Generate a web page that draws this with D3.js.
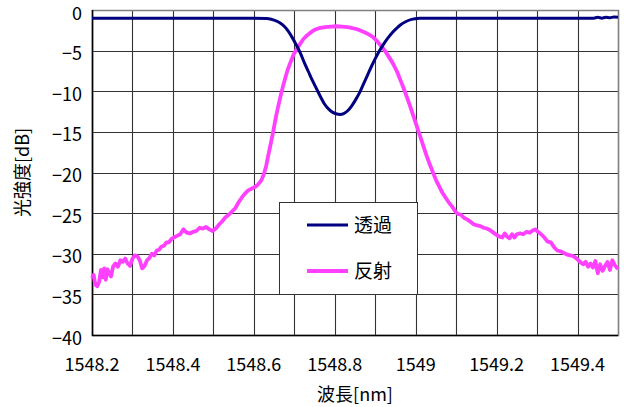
<!DOCTYPE html>
<html>
<head>
<meta charset="utf-8">
<script src="https://cdn.jsdelivr.net/npm/d3@7"></script>
<style>
    body { margin: 0; background: #fff; }
    svg { display: block; font-family: "Noto Sans CJK JP", "Liberation Sans", sans-serif; }
</style>
</head>
<body>
<svg id="chart" width="624" height="407"></svg>
<script>
"use strict";

// wavelength [nm] / level [dB]
var transWl = [1548.200, 1548.300, 1548.400, 1548.500, 1548.600, 1548.632, 1548.650, 1548.665,
    1548.675, 1548.685, 1548.695, 1548.705, 1548.715, 1548.725, 1548.735, 1548.745, 1548.755,
    1548.765, 1548.775, 1548.785, 1548.795, 1548.805, 1548.813, 1548.822, 1548.832, 1548.842,
    1548.852, 1548.862, 1548.872, 1548.882, 1548.892, 1548.902, 1548.912, 1548.922, 1548.932,
    1548.942, 1548.952, 1548.962, 1548.975, 1548.990, 1549.010, 1549.030, 1549.100, 1549.200,
    1549.300, 1549.400, 1549.440, 1549.450, 1549.460, 1549.470, 1549.480, 1549.490, 1549.500];
var transDb = [-1.0, -1.0, -1.0, -1.0, -1.0, -1.05, -1.25, -1.6,
    -2.0, -2.6, -3.4, -4.3, -5.3, -6.5, -7.6, -8.7, -9.7,
    -10.7, -11.6, -12.2, -12.6, -12.8, -12.85, -12.75, -12.4, -11.8,
    -11.0, -10.1, -9.0, -7.9, -6.8, -5.8, -4.9, -4.1, -3.4,
    -2.8, -2.3, -1.85, -1.45, -1.15, -1.03, -1.0, -1.0, -1.0,
    -1.0, -1.0, -1.0, -0.9, -1.0, -0.9, -0.95, -0.85, -0.9];

var reflWl = [1548.200, 1548.204, 1548.208, 1548.213, 1548.218, 1548.222, 1548.226, 1548.230,
    1548.234, 1548.238, 1548.242, 1548.247, 1548.252, 1548.258, 1548.264, 1548.270, 1548.276,
    1548.282, 1548.288, 1548.294, 1548.300, 1548.306, 1548.312, 1548.318, 1548.324, 1548.330,
    1548.336, 1548.342, 1548.348, 1548.354, 1548.360, 1548.366, 1548.372, 1548.378, 1548.384,
    1548.390, 1548.396, 1548.402, 1548.410, 1548.418, 1548.426, 1548.434, 1548.442, 1548.450,
    1548.458, 1548.466, 1548.474, 1548.482, 1548.490, 1548.498, 1548.506, 1548.514, 1548.522,
    1548.530, 1548.538, 1548.546, 1548.554, 1548.562, 1548.570, 1548.578, 1548.586, 1548.594,
    1548.602, 1548.610, 1548.618, 1548.624, 1548.630, 1548.636, 1548.642, 1548.648, 1548.654,
    1548.660, 1548.666, 1548.672, 1548.678, 1548.684, 1548.690, 1548.698, 1548.706, 1548.714,
    1548.722, 1548.732, 1548.742, 1548.752, 1548.764, 1548.776, 1548.790, 1548.804, 1548.818,
    1548.832, 1548.846, 1548.860, 1548.872, 1548.884, 1548.894, 1548.904, 1548.914, 1548.924,
    1548.934, 1548.944, 1548.954, 1548.962, 1548.970, 1548.978, 1548.986, 1548.994, 1549.002,
    1549.010, 1549.018, 1549.026, 1549.034, 1549.042, 1549.050, 1549.058, 1549.066, 1549.074,
    1549.082, 1549.090, 1549.098, 1549.104, 1549.112, 1549.120, 1549.128, 1549.136, 1549.144,
    1549.152, 1549.160, 1549.168, 1549.176, 1549.184, 1549.192, 1549.200, 1549.208, 1549.214,
    1549.220, 1549.226, 1549.232, 1549.238, 1549.244, 1549.250, 1549.258, 1549.266, 1549.274,
    1549.282, 1549.290, 1549.296, 1549.302, 1549.310, 1549.318, 1549.326, 1549.334, 1549.342,
    1549.350, 1549.358, 1549.366, 1549.374, 1549.382, 1549.390, 1549.398, 1549.406, 1549.414,
    1549.420, 1549.426, 1549.432, 1549.438, 1549.444, 1549.450, 1549.456, 1549.462, 1549.468,
    1549.474, 1549.480, 1549.486, 1549.492, 1549.500];
var reflDb = [-33.0, -32.6, -33.8, -34.0, -33.4, -32.0, -32.9, -31.8,
    -33.2, -31.9, -32.4, -32.8, -31.6, -31.2, -31.6, -30.8, -31.0,
    -30.6, -31.2, -31.5, -30.6, -30.2, -30.3, -30.8, -31.8, -31.5,
    -30.8, -30.5, -30.0, -30.2, -29.6, -29.5, -29.1, -29.0, -28.6,
    -28.6, -28.2, -28.0, -27.8, -27.6, -27.0, -27.4, -27.5, -27.3,
    -27.2, -26.8, -26.9, -26.7, -27.0, -27.2, -26.9, -26.4, -26.0,
    -25.5, -25.2, -24.8, -24.4, -23.7, -23.1, -22.6, -22.2, -22.0,
    -21.8, -21.5, -21.0, -20.3, -19.3, -17.8, -16.4, -14.9, -13.3,
    -11.9, -10.6, -9.4, -8.3, -7.3, -6.5, -5.5, -4.8, -4.2,
    -3.6, -3.1, -2.7, -2.4, -2.2, -2.1, -2.05, -2.0, -2.05,
    -2.1, -2.25, -2.45, -2.7, -3.0, -3.3, -3.8, -4.4, -5.0,
    -5.8, -6.6, -7.6, -8.6, -9.6, -10.7, -11.8, -13.0, -14.2,
    -15.4, -16.6, -17.8, -18.9, -19.9, -20.9, -21.7, -22.5, -23.1,
    -23.7, -24.2, -24.8, -25.1, -25.2, -25.6, -25.8, -26.1, -26.4,
    -26.5, -26.6, -26.8, -26.9, -27.1, -27.4, -27.7, -27.9, -28.0,
    -27.5, -27.9, -28.1, -27.6, -28.0, -27.6, -27.5, -27.6, -27.3,
    -27.4, -27.1, -27.0, -27.3, -27.6, -28.0, -28.5, -28.6, -29.2,
    -29.6, -29.7, -29.9, -30.1, -30.2, -30.3, -30.6, -31.0, -31.3,
    -31.0, -31.6, -31.2, -31.7, -30.9, -32.4, -31.3, -32.1, -31.5,
    -31.0, -32.0, -30.8, -31.4, -31.9];

var xTicks = [1548.2, 1548.3, 1548.4, 1548.5, 1548.6, 1548.7, 1548.8, 1548.9,
    1549.0, 1549.1, 1549.2, 1549.3, 1549.4, 1549.5];
var xLabels = [1548.2, 1548.4, 1548.6, 1548.8, 1549.0, 1549.2, 1549.4];
var yTicks = [0, -5, -10, -15, -20, -25, -30, -35, -40];
var seriesNames = ["透過", "反射"];
var seriesColors = ["#000080", "#ff40ff"];

(function () {
    var svg = d3.select("#chart"),
        left = 92,
        right = 618,
        top = 10,
        bottom = 335,
        x,
        y,
        line,
        legend,
        series;

    x = d3.scaleLinear().domain([1548.2, 1549.5]).range([left, right]);
    y = d3.scaleLinear().domain([-40, 0]).range([bottom, top]);

    // grid
    svg.append("g")
        .selectAll("line")
        .data(xTicks)
        .enter().append("line")
        .attr("x1", function (d) { return Math.round(x(d)) + 0.5; })
        .attr("x2", function (d) { return Math.round(x(d)) + 0.5; })
        .attr("y1", top)
        .attr("y2", bottom)
        .attr("stroke", "#333")
        .attr("stroke-width", 1.1);

    svg.append("g")
        .selectAll("line")
        .data(yTicks)
        .enter().append("line")
        .attr("x1", left)
        .attr("x2", right)
        .attr("y1", function (d) { return Math.round(y(d)) + 0.5; })
        .attr("y2", function (d) { return Math.round(y(d)) + 0.5; })
        .attr("stroke", "#333")
        .attr("stroke-width", 1.1);

    svg.append("rect")
        .attr("x", left + 0.5)
        .attr("y", top + 0.5)
        .attr("width", right - left)
        .attr("height", bottom - top)
        .attr("fill", "none")
        .attr("stroke", "#808080")
        .attr("stroke-width", 1.5);

    // axes lines
    svg.append("line")
        .attr("x1", left + 0.5).attr("x2", left + 0.5)
        .attr("y1", top).attr("y2", bottom + 1)
        .attr("stroke", "#000").attr("stroke-width", 1.5);
    svg.append("line")
        .attr("x1", left).attr("x2", right)
        .attr("y1", bottom + 0.5).attr("y2", bottom + 0.5)
        .attr("stroke", "#000").attr("stroke-width", 1.5);

    // tick labels
    svg.append("g")
        .selectAll("text")
        .data(yTicks)
        .enter().append("text")
        .attr("x", 82)
        .attr("y", function (d) { return y(d) + 9.5; })
        .attr("text-anchor", "end")
        .attr("font-size", 18)
        .text(function (d) { return d < 0 ? "−" + (-d) : String(d); });

    svg.append("g")
        .selectAll("text")
        .data(xLabels)
        .enter().append("text")
        .attr("x", function (d) { return x(d); })
        .attr("y", 371)
        .attr("text-anchor", "middle")
        .attr("font-size", 18)
        .text(function (d) { return d3.format("")(+d.toFixed(1)); });

    svg.append("text")
        .attr("x", (left + right) / 2)
        .attr("y", 401)
        .attr("text-anchor", "middle")
        .attr("font-size", 18)
        .text("波長[nm]");

    svg.append("text")
        .attr("transform", "translate(29," + ((top + bottom) / 2) + ") rotate(-90)")
        .attr("text-anchor", "middle")
        .attr("font-size", 18)
        .text("光強度[dB]");

    // lines
    line = d3.line()
        .x(function (d) { return x(d[0]); })
        .y(function (d) { return y(d[1]); });

    series = [
        d3.zip(reflWl, reflDb),
        d3.zip(transWl, transDb)
    ];

    svg.append("path")
        .datum(series[0])
        .attr("d", line)
        .attr("fill", "none")
        .attr("stroke", seriesColors[1])
        .attr("stroke-width", 3.8)
        .attr("stroke-linejoin", "round");

    svg.append("path")
        .datum(series[1])
        .attr("d", line.curve(d3.curveMonotoneX))
        .attr("fill", "none")
        .attr("stroke", seriesColors[0])
        .attr("stroke-width", 3)
        .attr("stroke-linejoin", "round");

    // legend
    legend = svg.append("g");
    legend.append("rect")
        .attr("x", 279.5)
        .attr("y", 202.5)
        .attr("width", 138)
        .attr("height", 92)
        .attr("fill", "#fff")
        .attr("stroke", "#333")
        .attr("stroke-width", 1);

    seriesNames.forEach(function (name, i) {
        var ly = 225 + i * 46;
        legend.append("line")
            .attr("x1", 307).attr("x2", 348)
            .attr("y1", ly).attr("y2", ly)
            .attr("stroke", seriesColors[i])
            .attr("stroke-width", i === 0 ? 3 : 3.8);
        legend.append("text")
            .attr("x", 354)
            .attr("y", ly + 7)
            .attr("font-size", 19)
            .text(name);
    });
}());
</script>
</body>
</html>
